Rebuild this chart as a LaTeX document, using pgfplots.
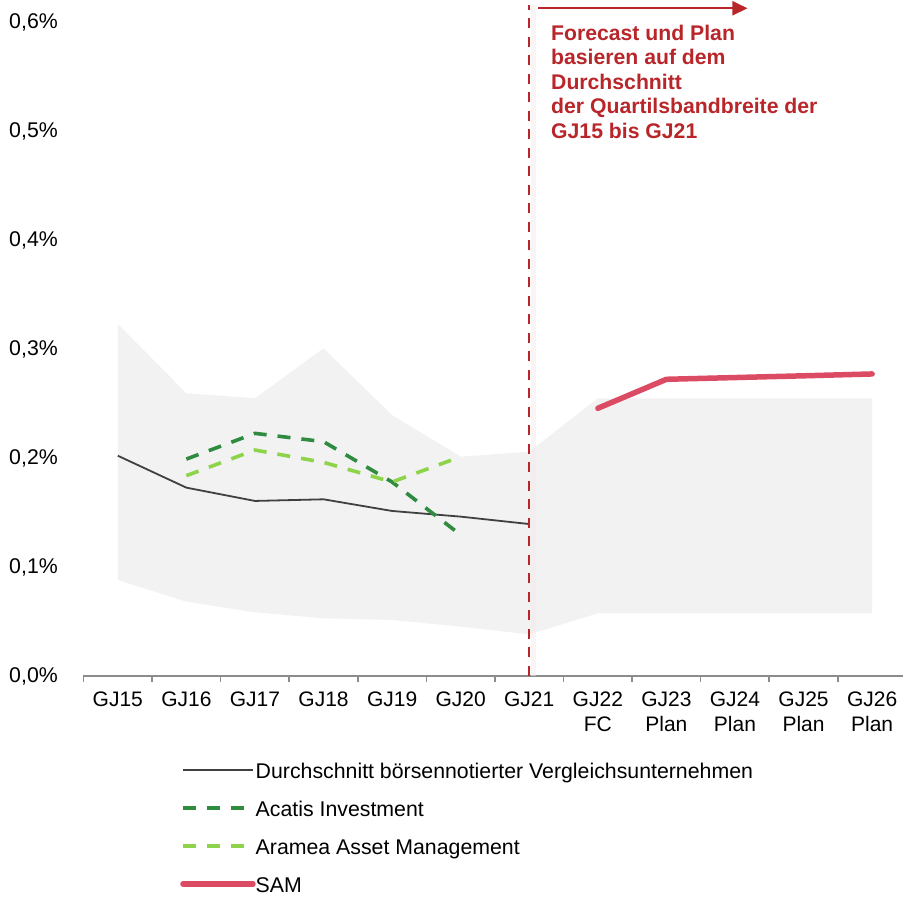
\documentclass[border=0pt]{standalone}
\usepackage{pgfplots}
\pgfplotsset{compat=1.18}
\usepackage{fontspec}
\setmainfont{Liberation Sans}
\usetikzlibrary{calc,arrows.meta}
\definecolor{band}{HTML}{F2F2F2}
\definecolor{avgc}{HTML}{404040}
\definecolor{acatis}{HTML}{2E8B3F}
\definecolor{aramea}{HTML}{8ED44A}
\definecolor{sam}{HTML}{DC4B64}
\definecolor{fcred}{HTML}{B8262A}
\definecolor{axgray}{HTML}{8C8C8C}
\begin{document}
\begin{tikzpicture}
\begin{axis}[
  scale only axis,
  width=819.5pt, height=654pt,
  xmin=-0.5, xmax=11.45,
  ymin=0, ymax=0.6,
  clip=false,
  axis x line*=bottom,
  axis y line*=left,
  y axis line style={draw=none},
  x axis line style={draw=axgray, line width=2.4pt},
  ytick={0,0.1,0.2,0.3,0.4,0.5,0.6},
  yticklabels={{0,0\%},{0,1\%},{0,2\%},{0,3\%},{0,4\%},{0,5\%},{0,6\%}},
  ytick style={draw=none},
  yticklabel style={font=\fontsize{21.3}{24.5}\selectfont, inner sep=0pt, anchor=east, xshift=-25.5pt},
  xtick={0,1,2,3,4,5,6,7,8,9,10,11},
  xticklabels={GJ15,GJ16,GJ17,GJ18,GJ19,GJ20,GJ21,{GJ22\\FC},{GJ23\\Plan},{GJ24\\Plan},{GJ25\\Plan},{GJ26\\Plan}},
  xticklabel style={font=\fontsize{21}{24.5}\selectfont, align=center, inner sep=0pt, anchor=north, yshift=-16pt},
  tick align=outside,
  major tick length=0pt,
  minor tick length=6pt,
  minor xtick={-0.5,0.5,1.5,2.5,3.5,4.5,5.5,6.5,7.5,8.5,9.5,10.5},
  minor tick style={draw=axgray, line width=1.6pt},
  legend style={at={(rel axis cs:0.1178,-0.1325)}, anchor=north west, draw=none, fill=none, inner sep=0pt,
    font=\fontsize{21.3}{24.5}\selectfont,
    nodes={inner sep=0pt, text height=16pt, text depth=1pt},
    row sep=21pt,
    /tikz/every even column/.append style={column sep=6pt}},
  legend cell align=left,
  legend image code/.code={\draw[#1] (0pt,1.5pt) -- (70pt,1.5pt);},
]
% quartile band
\addplot[fill=band, draw=none, forget plot] coordinates {
 (0,0.323) (1,0.2594) (2,0.2548) (3,0.3006) (4,0.2394) (5,0.2012) (6,0.2058)
 (7,0.2548) (8,0.2548) (9,0.2548) (10,0.2548) (11,0.2548)
 (11,0.0575) (10,0.0575) (9,0.0575) (8,0.0575) (7,0.0575)
 (6,0.0382) (5,0.0453) (4,0.0514) (3,0.0529) (2,0.0584) (1,0.0682) (0,0.0881)
} -- cycle;
% average
\addplot[color=avgc, line width=1.8pt] coordinates {
 (0,0.2021) (1,0.1728) (2,0.1606) (3,0.1621) (4,0.1514) (5,0.1462) (6,0.1394)
};
\addlegendentry{Durchschnitt börsennotierter Vergleichsunternehmen}
% Acatis
\addplot[color=acatis, line width=3.6pt, dash pattern=on 13pt off 11pt] coordinates {
 (1,0.199) (2,0.2226) (3,0.215) (4,0.178) (5,0.1294)
};
\addlegendentry{Acatis Investment}
% Aramea
\addplot[color=aramea, line width=3.6pt, dash pattern=on 13pt off 11pt] coordinates {
 (1,0.1838) (2,0.2073) (3,0.196) (4,0.178) (5,0.2012)
};
\addlegendentry{Aramea Asset Management}
% SAM
\addplot[color=sam, line width=5.5pt, line cap=round] coordinates {
 (7,0.2456) (8,0.2722) (9,0.2738) (10,0.2754) (11,0.2771)
};
\addlegendentry{SAM}
% forecast divider
\draw[color=fcred!10, line width=5pt, opacity=0.5] ([xshift=4pt]axis cs:6,0) -- ([xshift=4pt]axis cs:6,0.6156);
\draw[color=fcred, line width=2.2pt, dash pattern=on 10pt off 8.5pt] (axis cs:6,0) -- (axis cs:6,0.6156);
\draw[color=fcred, line width=2.2pt, -{Triangle[length=15pt,width=14pt]}] (axis cs:6.124,0.6126) -- (axis cs:9.182,0.6126);
\node[anchor=north west, inner sep=0pt, align=left, text=fcred, font=\fontsize{21.2}{24.5}\selectfont\bfseries]
  at (axis cs:6.317,0.5977) {Forecast und Plan\\basieren auf dem\\Durchschnitt\\der Quartilsbandbreite der\\GJ15 bis GJ21};
\coordinate (O) at (rel axis cs:0,0);
\end{axis}
\pgfresetboundingbox
\path ($(O)+(-83.5pt,-223pt)$) rectangle ($(O)+(819.5pt,676pt)$);
\end{tikzpicture}
\end{document}
